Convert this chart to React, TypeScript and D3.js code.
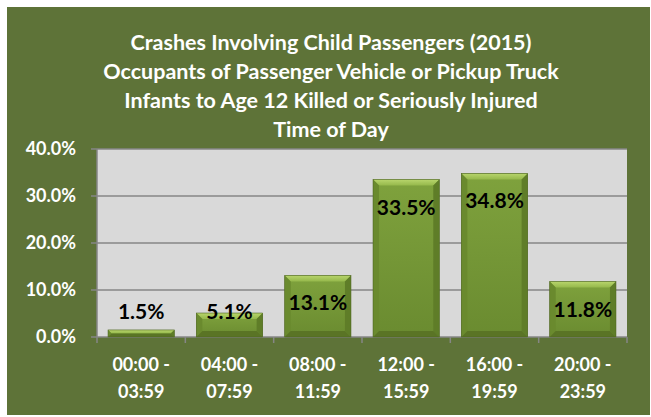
import React from 'react';
import * as d3 from 'd3';

const categories = ['00:00 - 03:59', '04:00 - 07:59', '08:00 - 11:59', '12:00 - 15:59', '16:00 - 19:59', '20:00 - 23:59'];
const values = [1.5, 5.1, 13.1, 33.5, 34.8, 11.8];
const yTicks = [0, 10, 20, 30, 40];
const titleLines = [
  'Crashes Involving Child Passengers (2015)',
  'Occupants of Passenger Vehicle or Pickup Truck',
  'Infants to Age 12 Killed or Seriously Injured',
  'Time of Day',
];

const W = 651;
const H = 417;
const plot = { left: 97, right: 627, top: 149, bottom: 337 };
const font = 'Lato, Calibri, "Open Sans", sans-serif';

const Bar = ({ x0, x1, yTop, yBot }: { x0: number; x1: number; yTop: number; yBot: number }) => {
  const b = Math.min(6, (yBot - yTop) / 2);
  const pts = (p: number[][]) => p.map(d => d.join(',')).join(' ');
  return (
    <g>
      <rect x={x0} y={yTop} width={x1 - x0} height={yBot - yTop} fill="url(#face)" />
      <polygon points={pts([[x0, yTop], [x1, yTop], [x1 - b, yTop + b], [x0 + b, yTop + b]])} fill="url(#topBevel)" />
      <polygon points={pts([[x0, yTop], [x0 + b, yTop + b], [x0 + b, yBot - b], [x0, yBot]])} fill="#6a8a2e" />
      <polygon points={pts([[x1, yTop], [x1 - b, yTop + b], [x1 - b, yBot - b], [x1, yBot]])} fill="#5f7d28" />
      <polygon points={pts([[x0, yBot], [x0 + b, yBot - b], [x1 - b, yBot - b], [x1, yBot]])} fill="#5a7425" />
      <rect x={x0} y={yTop} width={x1 - x0} height={yBot - yTop} fill="none" stroke="#4f6622" strokeWidth={0.6} />
    </g>
  );
};

export default function App() {
  const x = d3.scaleBand<string>().domain(categories).range([plot.left, plot.right]).paddingInner(0.25).paddingOuter(0.125);
  const y = d3.scaleLinear().domain([0, 40]).range([plot.bottom, plot.top]);
  const step = x.step();
  const edges = d3.range(categories.length + 1).map(i => plot.left + i * step);

  return (
    <svg width={W} height={H} style={{ position: 'absolute', left: 0, top: 0 }}>
      <defs>
        <linearGradient id="face" x1="0" y1="0" x2="0" y2="1">
          <stop offset="0%" stopColor="#7fa23d" />
          <stop offset="100%" stopColor="#6a8b30" />
        </linearGradient>
        <linearGradient id="topBevel" x1="0" y1="0" x2="0" y2="1">
          <stop offset="0%" stopColor="#b8d56c" />
          <stop offset="100%" stopColor="#95b84b" />
        </linearGradient>
      </defs>
      <rect x={0} y={0} width={W} height={H} fill="#ffffff" />
      <rect x={7} y={7} width={643} height={408} fill="#5e7338" />

      {titleLines.map((t, i) => (
        <text key={t} x={331} y={50 + i * 29} textAnchor="middle" fill="#ffffff" fontFamily={font} fontWeight="bold" fontSize={21.5}>
          {t}
        </text>
      ))}

      <rect x={plot.left} y={plot.top} width={plot.right - plot.left} height={plot.bottom - plot.top} fill="#d9d9d9" />

      {yTicks.map(t => (
        <g key={t}>
          <line x1={plot.left - 6} x2={plot.right} y1={y(t)} y2={y(t)} stroke="#868686" strokeWidth={1.5} />
          <text x={76} y={y(t) + 6} textAnchor="end" fill="#ffffff" fontFamily={font} fontWeight="bold" fontSize={18}>
            {d3.format('.1f')(t) + '%'}
          </text>
        </g>
      ))}
      <line x1={plot.left} x2={plot.left} y1={plot.top} y2={plot.bottom} stroke="#868686" strokeWidth={1.5} />
      {edges.map((ex, i) => (
        <line key={i} x1={ex} x2={ex} y1={plot.bottom} y2={plot.bottom + 6} stroke="#868686" strokeWidth={1.5} />
      ))}

      {categories.map((c, i) => {
        const x0 = x(c) as number;
        const x1 = x0 + x.bandwidth();
        const yTop = y(values[i]);
        const cx = x0 + x.bandwidth() / 2;
        const ly = Math.min(yTop + 35, plot.bottom - 18);
        const [l1, l2] = c.split(' - ');
        return (
          <g key={c}>
            <Bar x0={x0} x1={x1} yTop={yTop} yBot={plot.bottom} />
            <text x={cx} y={ly} textAnchor="middle" fill="#000000" fontFamily={font} fontWeight="bold" fontSize={21}>
              {values[i].toFixed(1) + '%'}
            </text>
            <text x={cx} y={371} textAnchor="middle" fill="#ffffff" fontFamily={font} fontWeight="bold" fontSize={18}>
              {l1 + ' -'}
            </text>
            <text x={cx} y={398} textAnchor="middle" fill="#ffffff" fontFamily={font} fontWeight="bold" fontSize={18}>
              {l2}
            </text>
          </g>
        );
      })}
    </svg>
  );
}
